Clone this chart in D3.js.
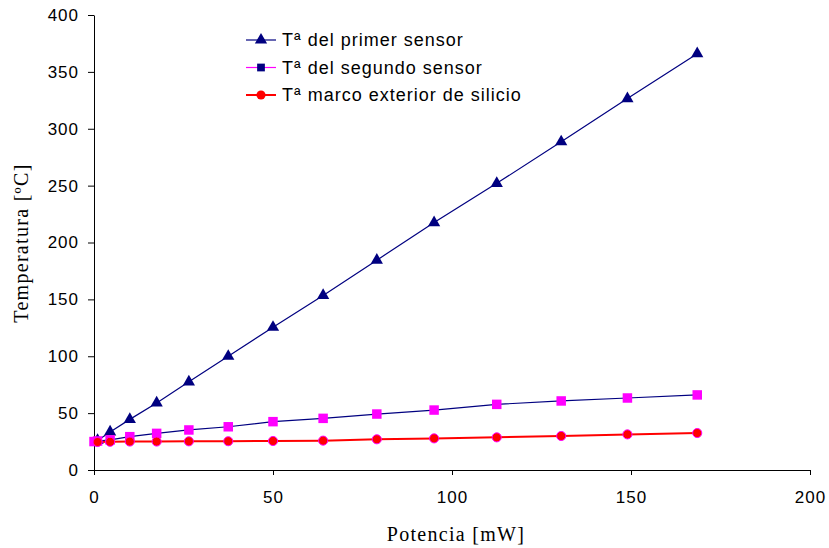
<!DOCTYPE html>
<html><head><meta charset="utf-8">
<script src="https://cdn.jsdelivr.net/npm/d3@7"></script>
<style>body{margin:0;background:#fff}svg{display:block}</style>
</head><body>
<svg id="c" width="829" height="548"></svg>
<script>
const xPrimer = [1, 4.5, 10, 17.5, 26.5, 37.5, 50, 64, 79, 95, 112.5, 130.5, 149, 168.5];
const tPrimer = [26, 33.5, 44.5, 59, 77.5, 100, 125.5, 153.5, 184.5, 217.5, 252, 288.5, 326.5, 366];
const xSegundo = [0, 1, 4.5, 10, 17.5, 26.5, 37.5, 50, 64, 79, 95, 112.5, 130.5, 149, 168.5];
const tSegundo = [25, 25.5, 26.5, 29.3, 32.2, 35.2, 38, 42.5, 45.4, 49.2, 52.7, 57.7, 60.7, 63.3, 66];
const xMarco = [1, 4.5, 10, 17.5, 26.5, 37.5, 50, 64, 79, 95, 112.5, 130.5, 149, 168.5];
const tMarco = [24.6, 24.8, 25, 25, 25.2, 25.3, 25.5, 25.8, 27, 27.8, 28.7, 29.9, 31.3, 32.5];
const seriesNames = ["Tª del primer sensor", "Tª del segundo sensor", "Tª marco exterior de silicio"];
const xTicks = [0, 50, 100, 150, 200];
const yTicks = [0, 50, 100, 150, 200, 250, 300, 350, 400];
const xTitle = "Potencia [mW]";
const yTitle = "Temperatura [ºC]";

const svg = d3.select("#c");
const x = d3.scaleLinear().domain([0, 200]).range([94, 810]);
const y = d3.scaleLinear().domain([0, 400]).range([470, 15]);

const xAxis = svg.append("g").attr("transform", "translate(0,470)")
  .call(d3.axisBottom(x).tickValues(xTicks).tickSize(5).tickPadding(16).tickSizeOuter(0));
const yAxis = svg.append("g").attr("transform", "translate(94,0)")
  .call(d3.axisLeft(y).tickValues(yTicks).tickSize(6).tickPadding(9).tickSizeOuter(0));
[xAxis, yAxis].forEach(a => {
  a.selectAll("path,line").attr("stroke", "#000").attr("stroke-width", 1);
  a.selectAll("text").attr("font-family", "Liberation Sans, Arial, sans-serif")
    .attr("font-size", 17).attr("letter-spacing", 1).attr("fill", "#000");
});

svg.append("text").attr("x", 456).attr("y", 541).attr("text-anchor", "middle")
  .attr("font-family", "Liberation Serif, Times New Roman, serif").attr("font-size", 20)
  .attr("letter-spacing", 1.3).text(xTitle);
svg.append("text").attr("transform", "translate(28,243) rotate(-90)").attr("text-anchor", "middle")
  .attr("font-family", "Liberation Serif, Times New Roman, serif").attr("font-size", 20)
  .attr("letter-spacing", 1.3).text(yTitle);

const navy = "#000080", magenta = "#ff00ff", red = "#ff0000";
const line = d3.line().x(d => x(d[0])).y(d => y(d[1]));
const d1 = xPrimer.map((v, i) => [v, tPrimer[i]]);
const d2 = xSegundo.map((v, i) => [v, tSegundo[i]]);
const d3s = xMarco.map((v, i) => [v, tMarco[i]]);

svg.append("path").datum(d1).attr("d", line).attr("fill", "none").attr("stroke", navy).attr("stroke-width", 1.2);
svg.append("path").datum(d2).attr("d", line).attr("fill", "none").attr("stroke", navy).attr("stroke-width", 1.2);
svg.append("path").datum(d3s).attr("d", line).attr("fill", "none").attr("stroke", red).attr("stroke-width", 2);

const tri = d3.symbol().type(d3.symbolTriangle).size(65);
const sq = d3.symbol().type(d3.symbolSquare).size(90);
const circ = d3.symbol().type(d3.symbolCircle).size(65);

svg.append("g").selectAll("path").data(d1).join("path")
  .attr("d", tri).attr("transform", d => `translate(${x(d[0])},${y(d[1])})`).attr("fill", navy);
svg.append("g").selectAll("path").data(d2).join("path")
  .attr("d", sq).attr("transform", d => `translate(${x(d[0])},${y(d[1])})`).attr("fill", magenta);
svg.append("g").selectAll("path").data(d3s).join("path")
  .attr("d", circ).attr("transform", d => `translate(${x(d[0])},${y(d[1])})`).attr("fill", red)
  .attr("stroke", magenta).attr("stroke-width", 1);

// legend
const legend = [
  {name: seriesNames[0], line: navy, sym: tri, fill: navy, w: 1.2},
  {name: seriesNames[1], line: magenta, sym: d3.symbol().type(d3.symbolSquare).size(60), fill: navy, w: 1.2},
  {name: seriesNames[2], line: red, sym: circ, fill: red, w: 2}
];
const lg = svg.append("g");
legend.forEach((l, i) => {
  const yy = 40 + i * 27.5;
  lg.append("line").attr("x1", 246).attr("x2", 276).attr("y1", yy).attr("y2", yy)
    .attr("stroke", l.line).attr("stroke-width", l.w);
  lg.append("path").attr("d", l.sym).attr("transform", `translate(261,${yy})`).attr("fill", l.fill);
  lg.append("text").attr("x", 282).attr("y", yy + 6).attr("font-family", "Liberation Sans, Arial, sans-serif")
    .attr("font-size", 18).attr("letter-spacing", 1).attr("fill", "#000").text(l.name);
});
</script>
</body></html>
